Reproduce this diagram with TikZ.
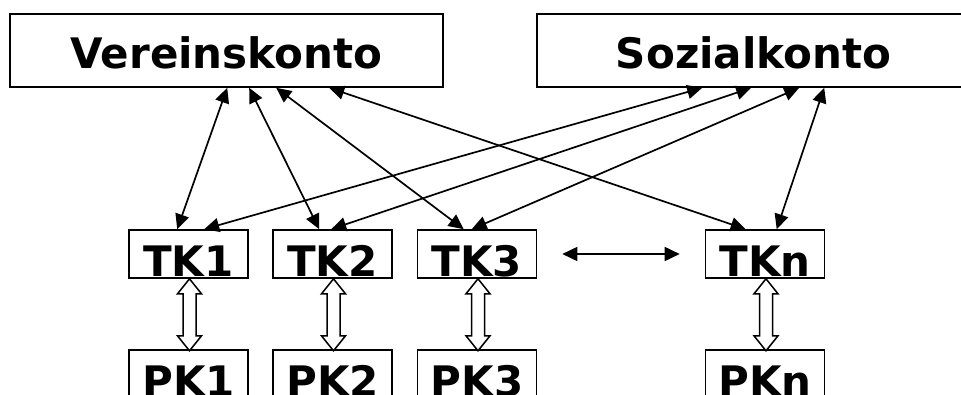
\documentclass[tikz,border=0pt]{standalone}
\usepackage{fontspec}
\setsansfont{DejaVu Sans}
\usetikzlibrary{arrows.meta,calc}

\tikzset{
  konto/.style={draw, line width=1.6pt, inner sep=0pt, anchor=base,
    font=\sffamily\bfseries\fontsize{42}{50}\selectfont},
  bigbox/.style={konto, minimum width=433pt, text height=54pt, text depth=19pt},
  smallbox/.style={konto, minimum width=119pt, text height=46pt, text depth=2pt},
  link/.style={line width=1.7pt, {Triangle[length=15pt,width=14pt]}-{Triangle[length=15pt,width=14pt]}},
  updown/.pic={
    \draw[line width=1.5pt, fill=white, line join=miter]
      (0,0) -- (12,15) -- (6.5,15) -- (6.5,57) -- (12,57) -- (0,72)
      -- (-12,57) -- (-6.5,57) -- (-6.5,15) -- (-12,15) -- cycle;
  }
}

\begin{document}
\begin{tikzpicture}[x=1pt, y=-1pt]
  \useasboundingbox (0,0) rectangle (961,394);

  % accounts
  \node[bigbox] (V) at (226.5,68) {Vereinskonto};
  \node[bigbox] (S) at (753.5,68) {Sozialkonto};

  \node[smallbox] (TK1) at (188.5,276) {TK1};
  \node[smallbox] (TK2) at (332.5,276) {TK2};
  \node[smallbox] (TK3) at (477,276)   {TK3};
  \node[smallbox] (TKn) at (765,276)   {TKn};

  \node[smallbox] (PK1) at (188.5,396) {PK1};
  \node[smallbox] (PK2) at (332.5,396) {PK2};
  \node[smallbox] (PK3) at (477,396)   {PK3};
  \node[smallbox] (PKn) at (765,396)   {PKn};

  % Vereinskonto links
  \draw[link] ($(V.south west)+(218,0)$) -- ($(TK1.north west)+(49,0)$);
  \draw[link] ($(V.south west)+(240,0)$) -- ($(TK2.north west)+(47,0)$);
  \draw[link] ($(V.south west)+(267,0)$) -- ($(TK3.north west)+(47,0)$);
  \draw[link] ($(V.south west)+(320,0)$) -- ($(TKn.north west)+(41,0)$);

  % Sozialkonto links
  \draw[link] ($(S.south west)+(166,0)$) -- ($(TK1.north west)+(76,0)$);
  \draw[link] ($(S.south west)+(215,0)$) -- ($(TK2.north west)+(59,0)$);
  \draw[link] ($(S.south west)+(263,0)$) -- ($(TK3.north west)+(55,0)$);
  \draw[link] ($(S.south west)+(288,0)$) -- ($(TKn.north west)+(72,0)$);

  % between TK3 and TKn
  \draw[link, shorten <=25pt, shorten >=25pt] (TK3.east) -- (TKn.west);

  % TK <-> PK
  \pic at ($(TK1.south)+(1,0)$) {updown};
  \pic at ($(TK2.south)+(1,0)$) {updown};
  \pic at ($(TK3.south)+(1,0)$) {updown};
  \pic at ($(TKn.south)+(1,0)$) {updown};
\end{tikzpicture}
\end{document}
